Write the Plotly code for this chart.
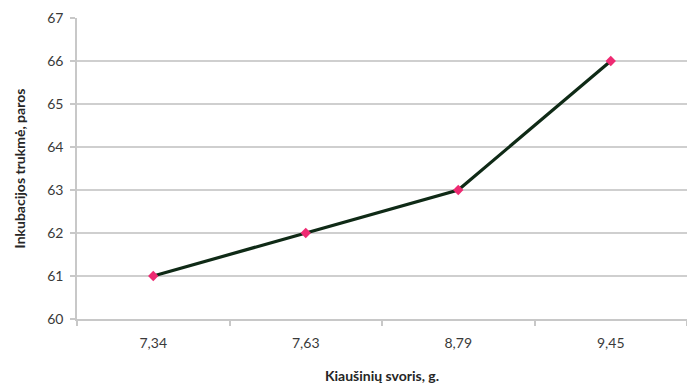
import plotly.graph_objects as go

# Egg weight (g) vs incubation duration (days)
egg_weight = ["7,34", "7,63", "8,79", "9,45"]
incubation_days = [61, 62, 63, 66]
y_ticks = [60, 61, 62, 63, 64, 65, 66, 67]

fig = go.Figure()
fig.add_trace(go.Scatter(
    x=egg_weight,
    y=incubation_days,
    mode="lines+markers",
    line=dict(color="#0f2a16", width=3.2),
    marker=dict(symbol="diamond", size=8, color="#ee2a72"),
    showlegend=False,
))

font_family = "Lato, Open Sans, Liberation Sans, sans-serif"

fig.update_layout(
    width=687,
    height=387,
    margin=dict(l=77, r=0, t=18, b=68),
    paper_bgcolor="white",
    plot_bgcolor="white",
    font=dict(family=font_family, color="#404040", size=13),
    xaxis=dict(
        type="category",
        range=[-0.5, 3.5],
        tickson="boundaries",
        ticks="outside",
        ticklen=5,
        tickcolor="#c8c8c8",
        tickwidth=1.5,
        ticklabelstandoff=10,
        showgrid=False,
        showline=True,
        linecolor="#c8c8c8",
        linewidth=1.5,
        tickfont=dict(size=14, color="#3a3a3a"),
        title=dict(text="<b>Kiaušinių svoris, g.</b>",
                   font=dict(size=14, color="#262626"), standoff=22),
    ),
    yaxis=dict(
        range=[60, 67],
        tickvals=y_ticks,
        ticks="outside",
        ticklen=5,
        tickcolor="#c8c8c8",
        tickwidth=1.5,
        ticklabelstandoff=4,
        showgrid=True,
        gridcolor="#cfcfcf",
        gridwidth=1.5,
        showline=True,
        linecolor="#c8c8c8",
        linewidth=1.5,
        zeroline=False,
        tickfont=dict(size=14, color="#3a3a3a"),
        title=dict(text="<b>Inkubacijos trukmė, paros</b>",
                   font=dict(size=14, color="#262626"), standoff=18),
    ),
)

fig.write_html("out.html")
